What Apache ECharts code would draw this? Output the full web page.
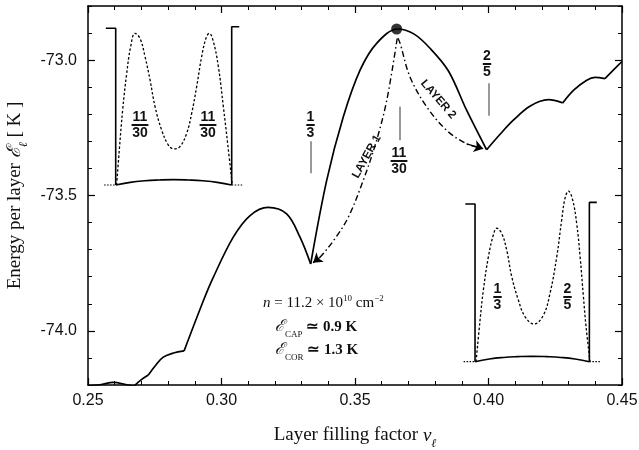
<!DOCTYPE html>
<html><head><meta charset="utf-8">
<script src="https://cdn.jsdelivr.net/npm/echarts@6/dist/echarts.min.js"></script>
<style>html,body{margin:0;padding:0;background:#fff}#c{width:639px;height:450px}</style>
</head><body><div id="c"></div>
<script>
// ---------- data ----------
const yTickValues = [-74.0, -73.5, -73.0];
// main solid curve, split into arcs at its cusps
const arc0 = [[0.250,-74.203],[0.2545,-74.199],[0.2595,-74.19],[0.2645,-74.199],[0.2672,-74.204]];
const arc1 = [[0.2672,-74.204],[0.2700,-74.180],[0.2726,-74.163]];
const arc2 = [[0.2726,-74.163],[0.2755,-74.125],[0.2782,-74.097],[0.282,-74.082],[0.286,-74.074]];
const arc3 = [[0.286,-74.074],[0.2932,-73.889],[0.2967,-73.807],[0.3044,-73.654],[0.3107,-73.574],[0.3174,-73.544],[0.3244,-73.568],[0.3294,-73.654],[0.3334,-73.753]];
const arc4 = [[0.3334,-73.753],[0.3394,-73.444],[0.3456,-73.21],[0.3519,-73.037],[0.3581,-72.938],[0.366,-72.885],[0.372,-72.903],[0.378,-72.955],[0.385,-73.04],[0.3918,-73.185],[0.3993,-73.331]];
const arc5 = [[0.3993,-73.331],[0.4045,-73.272],[0.4093,-73.222],[0.4155,-73.17],[0.4224,-73.146],[0.4278,-73.158]];
const arc6 = [[0.4278,-73.158],[0.432,-73.11],[0.4368,-73.074],[0.4399,-73.064],[0.4436,-73.068]];
const arc7 = [[0.4436,-73.068],[0.4486,-73.0185],[0.450,-73.005]];
const peakPoint = [[0.3656,-72.885]];
const layer1 = [[0.3658,-72.92],[0.3619,-73.148],[0.3581,-73.296],[0.3531,-73.444],[0.3475,-73.58],[0.3425,-73.659],[0.3369,-73.728],[0.3343,-73.748]];
const layer2 = [[0.3661,-72.919],[0.3669,-72.938],[0.3706,-73.062],[0.3769,-73.173],[0.3843,-73.259],[0.3918,-73.309],[0.398,-73.327]];
const markerX = [1/3, 11/30, 2/5];
const markerTop = [-73.300, -73.172, -73.085];
const markerBottom = [-73.418, -73.296, -73.205];
// insets (well coordinate 0..1, density 0..)
const wallLeft = [[-0.085,1.0],[0,1.0],[0,0]];
const wallRight = [[1,0],[1,1.01],[1.065,1.01]];
const wellFloor = [[0,0],[0.125,0.017],[0.25,0.027],[0.375,0.032],[0.5,0.034],[0.625,0.032],[0.75,0.027],[0.875,0.017],[1,0]];
const floorExtLeft = [[-0.1,0],[0,0]];
const floorExtRight = [[1,0],[1.1,0]];
const inset1Density = [[0.008,0],[0.031,0.223],[0.06,0.479],[0.095,0.713],[0.129,0.883],[0.166,0.968],[0.209,0.936],[0.253,0.819],[0.296,0.67],[0.339,0.5],[0.396,0.351],[0.454,0.255],[0.503,0.23],[0.554,0.245],[0.612,0.33],[0.655,0.457],[0.698,0.628],[0.741,0.819],[0.778,0.936],[0.807,0.968],[0.842,0.915],[0.885,0.755],[0.928,0.5],[0.965,0.266],[1.005,0]];
const inset2Density = [[0.009,0],[0.044,0.264],[0.073,0.455],[0.117,0.666],[0.16,0.803],[0.19,0.846],[0.233,0.814],[0.277,0.708],[0.321,0.539],[0.379,0.391],[0.437,0.286],[0.516,0.239],[0.598,0.296],[0.656,0.434],[0.715,0.666],[0.758,0.899],[0.787,1.036],[0.817,1.082],[0.854,1.025],[0.889,0.877],[0.919,0.666],[0.948,0.412],[0.971,0.222],[1.006,0]];

// ---------- chart ----------
const serif = "'Liberation Serif','Times New Roman',serif";
const sans = "'Liberation Sans',Arial,sans-serif";
const ink = '#111';
const chart = echarts.init(document.getElementById('c'));

const mainX = (pos, labels) => ({
  type:'value', gridIndex:0, position:pos, min:0.25, max:0.45, interval:0.05,
  axisLine:{show:true, onZero:false, lineStyle:{color:'#000', width:1.5}},
  axisTick:{show:true, inside:true, length:7, lineStyle:{color:'#000', width:1.2}},
  minorTick:{show:true, splitNumber:5, length:4, lineStyle:{color:'#000', width:1}},
  splitLine:{show:false}, minorSplitLine:{show:false},
  axisLabel:{show:labels, margin:8, formatter:v=>v.toFixed(2), fontFamily:sans, fontSize:16, color:ink}
});
const mainYMinor = (pos) => ({
  type:'value', gridIndex:0, position:pos, min:-74.2, max:-72.8, interval:0.1,
  axisLine:{show:true, onZero:false, lineStyle:{color:'#000', width:1.5}},
  axisTick:{show:true, inside:true, length:4, lineStyle:{color:'#000', width:1}},
  splitLine:{show:false}, axisLabel:{show:false}
});
const mainYMajor = (pos, labels) => ({
  type:'value', gridIndex:0, position:pos, min:-74.2, max:-72.8,
  axisLine:{show:false},
  axisTick:{show:true, inside:true, length:7, customValues:yTickValues, lineStyle:{color:'#000', width:1.2}},
  splitLine:{show:false},
  axisLabel:{show:labels, customValues:yTickValues, margin:11, formatter:v=>v.toFixed(1), fontFamily:sans, fontSize:16, color:ink}
});
const hiddenX = (g) => ({type:'value', gridIndex:g, min:-0.1, max:1.1, show:false});
const hiddenY = (g) => ({type:'value', gridIndex:g, min:0, max:1.1, show:false});

const xAxes = [mainX('bottom', true), mainX('top', false), hiddenX(1), hiddenX(2)];
xAxes[0].name = 'Layer filling factor {i|ν}{sub|ℓ}';
xAxes[0].nameLocation = 'middle';
xAxes[0].nameGap = 41;
xAxes[0].nameTextStyle = {fontFamily:serif, fontSize:19, color:ink,
  rich:{i:{fontFamily:serif, fontStyle:'italic', fontSize:19, color:ink},
        sub:{fontFamily:serif, fontStyle:'italic', fontSize:12, color:ink, verticalAlign:'bottom', lineHeight:14, padding:[0,0,-5,0]}}};
const yAxes = [mainYMinor('left'), mainYMajor('left', true), mainYMinor('right'), mainYMajor('right', false), hiddenY(1), hiddenY(2)];
yAxes[1].name = 'Energy per layer {e|ℰ}{sub|ℓ} [ K ]';
yAxes[1].nameLocation = 'middle';
yAxes[1].nameGap = 62;
yAxes[1].nameTextStyle = {fontFamily:serif, fontSize:19, color:ink,
  rich:{e:{fontFamily:serif, fontStyle:'italic', fontSize:19, color:ink},
        sub:{fontFamily:serif, fontStyle:'italic', fontSize:12, color:ink, verticalAlign:'bottom', padding:[0,0,-5,0]}}};

const series = [];
[arc0,arc1,arc2,arc3,arc4,arc5,arc6,arc7].forEach(a => series.push({
  type:'line', xAxisIndex:0, yAxisIndex:0, data:a, smooth:0.35, symbol:'none',
  lineStyle:{color:'#000', width:1.7}, silent:true
}));
const dashDot = [6,3,1.5,3];
[layer1, layer2].forEach(a => {
  series.push({type:'line', xAxisIndex:0, yAxisIndex:0, data:a, smooth:0.35, symbol:'none',
    lineStyle:{color:'#000', width:1.4, type:dashDot}, silent:true});
});
series.push({type:'lines', coordinateSystem:'cartesian2d', xAxisIndex:0, yAxisIndex:0,
  symbol:['none','arrow'], symbolSize:9, silent:true,
  lineStyle:{color:'#000', width:1.3, opacity:1},
  data:[layer1, layer2].map(a => ({coords:[a[a.length-2], a[a.length-1]]}))});
series.push({type:'lines', coordinateSystem:'cartesian2d', xAxisIndex:0, yAxisIndex:0, silent:true,
  lineStyle:{color:'#000', width:1.6},
  data:markerX.map((x,i) => ({coords:[[x, markerTop[i]],[x, markerBottom[i]]]}))});
series.push({type:'scatter', xAxisIndex:0, yAxisIndex:0, data:peakPoint, symbolSize:11,
  itemStyle:{color:'#000'}, silent:true, z:5});

[[2,4,inset1Density],[3,5,inset2Density]].forEach(([xi, yi, dens]) => {
  [wallLeft, wallRight].forEach(w => series.push({type:'line', xAxisIndex:xi, yAxisIndex:yi, data:w,
    symbol:'none', lineStyle:{color:'#000', width:1.6}, silent:true, clip:false}));
  series.push({type:'line', xAxisIndex:xi, yAxisIndex:yi, data:wellFloor, smooth:0.5,
    symbol:'none', lineStyle:{color:'#000', width:1.6}, silent:true, clip:false});
  [floorExtLeft, floorExtRight].forEach(w => series.push({type:'line', xAxisIndex:xi, yAxisIndex:yi, data:w,
    symbol:'none', lineStyle:{color:'#000', width:1.2, type:[1.5,1.5]}, silent:true, clip:false}));
  series.push({type:'line', xAxisIndex:xi, yAxisIndex:yi, data:dens, smooth:0.4,
    symbol:'none', lineStyle:{color:'#000', width:1.3, type:[2.5,2]}, silent:true, clip:false});
});

function frac(cx, cy, num, den, size) {
  const w = Math.max(num.length, den.length) * size * 0.6;
  const ts = {fontFamily:sans, fontSize:size, fontWeight:'bold', fill:ink, align:'center'};
  return {type:'group', children:[
    {type:'text', x:cx, y:cy - 0.5, style:Object.assign({text:num, verticalAlign:'bottom'}, ts)},
    {type:'line', shape:{x1:cx - w/2, y1:cy, x2:cx + w/2, y2:cy}, style:{stroke:ink, lineWidth:2}},
    {type:'text', x:cx, y:cy + 1.5, style:Object.assign({text:den, verticalAlign:'top'}, ts)}
  ]};
}
const annRich = {
  i:{fontFamily:serif, fontStyle:'italic', fontSize:15, fill:ink},
  e:{fontFamily:serif, fontStyle:'italic', fontSize:16, fill:ink},
  sup:{fontFamily:serif, fontSize:9, fill:ink, verticalAlign:'top', lineHeight:18},
  sub:{fontFamily:serif, fontSize:9, fill:ink, verticalAlign:'bottom', lineHeight:14, padding:[0,0,-4,0]}
};
const graphic = [
  frac(310.5, 125, '1', '3', 14),
  frac(399, 161, '11', '30', 14),
  frac(487, 64, '2', '5', 14),
  frac(140, 125, '11', '30', 14),
  frac(208, 125, '11', '30', 14),
  frac(497.5, 297, '1', '3', 14),
  frac(567.5, 297, '2', '5', 14),
  {type:'text', x:366.7, y:156.7, rotation:61*Math.PI/180,
    style:{text:'LAYER 1', fontFamily:sans, fontSize:11.5, fontWeight:'bold', fill:ink, align:'center', verticalAlign:'middle'}},
  {type:'text', x:438.3, y:99.3, rotation:-49*Math.PI/180,
    style:{text:'LAYER 2', fontFamily:sans, fontSize:11.5, fontWeight:'bold', fill:ink, align:'center', verticalAlign:'middle'}},
  {type:'text', x:263, y:303, style:{text:'{i|n} = 11.2 × 10{sup|10} cm{sup|−2}', rich:annRich,
    fontFamily:serif, fontSize:15, fill:ink, align:'left', verticalAlign:'middle'}},
  {type:'text', x:275, y:327, style:{text:'{e|ℰ}{sub|CAP} ≃ 0.9 K', rich:annRich,
    fontFamily:serif, fontSize:15, fontWeight:'bold', fill:ink, align:'left', verticalAlign:'middle'}},
  {type:'text', x:275, y:350, style:{text:'{e|ℰ}{sub|COR} ≃ 1.3 K', rich:annRich,
    fontFamily:serif, fontSize:15, fontWeight:'bold', fill:ink, align:'left', verticalAlign:'middle'}}
];

chart.setOption({
  animation:false,
  backgroundColor:'#fff',
  grid:[
    {left:88, top:6, width:534, height:379, outerBoundsMode:'none', containLabel:false},
    {left:104.1, top:12.6, width:139.2, height:172.4, outerBoundsMode:'none', containLabel:false},
    {left:463.6, top:188.2, width:137.2, height:173.5, outerBoundsMode:'none', containLabel:false}
  ],
  xAxis:xAxes,
  yAxis:yAxes,
  series:series,
  graphic:graphic
});
</script>
</body></html>
